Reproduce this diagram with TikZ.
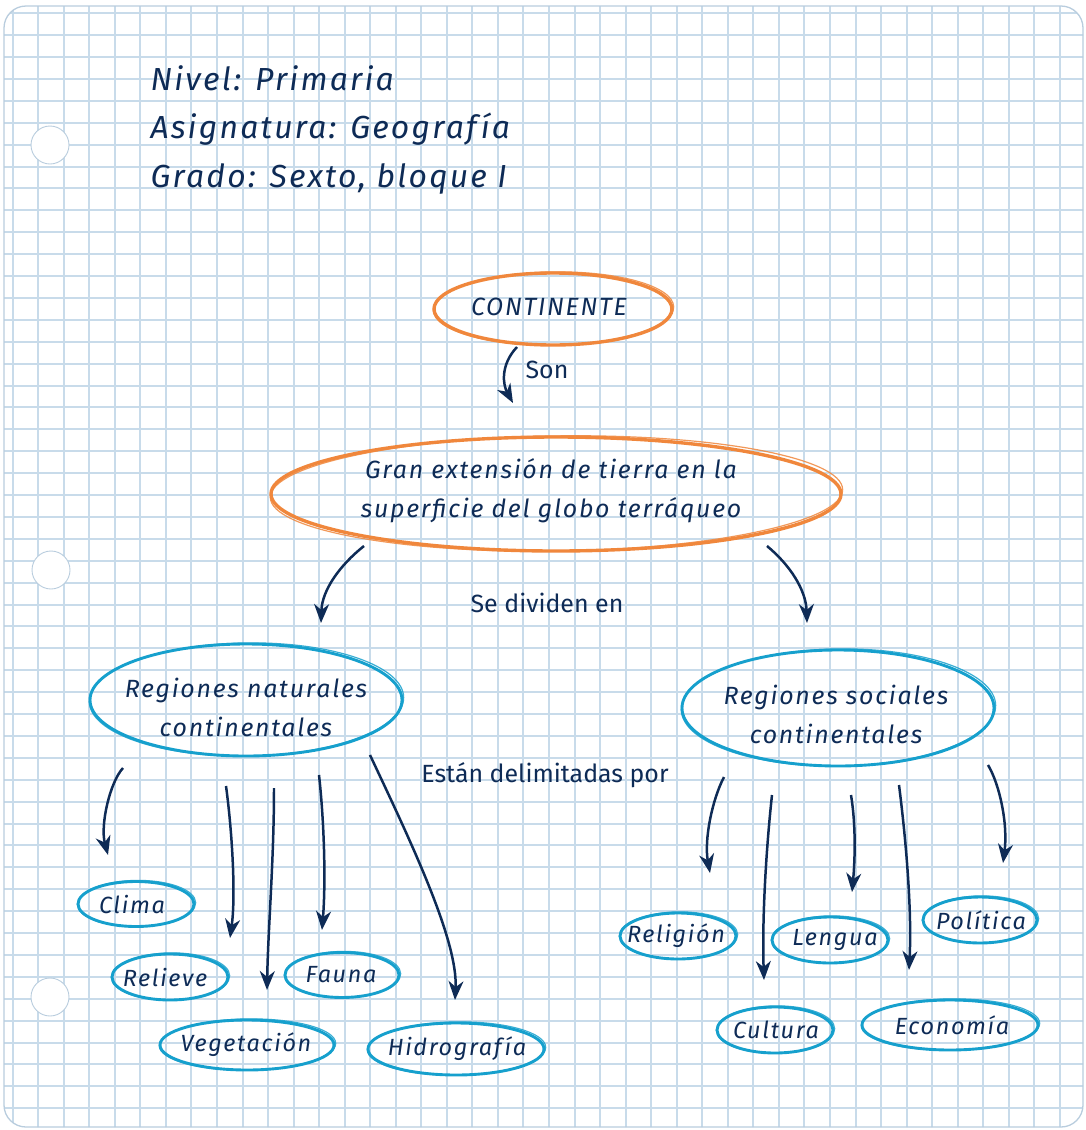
\documentclass[tikz,border=0pt]{standalone}
\usepackage{fontspec}
\usetikzlibrary{arrows.meta}
\newfontfamily\hand{Fira Sans}[UprightFont={* Italic},LetterSpace=7]
\newfontfamily\lab{Fira Sans}
\definecolor{navy}{RGB}{14,43,86}
\definecolor{ora}{RGB}{240,135,60}
\definecolor{cya}{RGB}{22,160,205}
\definecolor{gridc}{RGB}{200,219,234}
\definecolor{paperc}{RGB}{185,205,222}
\newcommand\sketchoval[5]{% center x, center y, rx, ry, style
  \draw[#5] (#1,#2) ellipse [x radius=#3, y radius=#4];
  \draw[#5, line width=1.2pt, opacity=0.85, rotate around={0.8:(#1,#2)}] (#1+0.5,#2+0.5) ellipse [x radius=#3+1.2, y radius=#4+0.6];
}
\begin{document}
\begin{tikzpicture}[x=1bp,y=1bp,
  gridline/.style={draw=gridc, line width=2bp},
  hole/.style={circle, draw=paperc, fill=white, line width=0.9pt, minimum size=38bp, inner sep=0pt},
  orl/.style={draw=ora, line width=3.4pt},
  cyl/.style={draw=cya, line width=2.9pt},
  hwbig/.style={text=navy, align=center, font=\hand\fontsize{25}{39}\selectfont},
  hwsmall/.style={text=navy, font=\hand\fontsize{23.5}{28}\selectfont},
  hwhead/.style={text=navy, anchor=base west, font=\hand\fontsize{32}{36}\selectfont},
  lbl/.style={text=navy, anchor=base, font=\lab\fontsize{25}{28}\selectfont},
  arr/.style={draw=navy, line width=2.5pt, -{Stealth[length=19pt,width=15pt,inset=6pt]}},
]
\useasboundingbox (0,0) rectangle (1086,-1130);
\fill[white] (0,0) rectangle (1086,-1130);
% paper grid
\begin{scope}
\clip[rounded corners=22bp] (4,-6) rectangle (1083,-1127);
\foreach \i in {0,...,42} {\pgfmathsetmacro\gx{round(12.7+25.54*\i)}
  \draw[gridline] (\gx,0) -- (\gx,-1130);}
\foreach \j in {0,...,51} {\pgfmathsetmacro\gy{round(13.3+21.9*\j)}
  \draw[gridline] (0,-\gy) -- (1086,-\gy);}
\end{scope}
\draw[paperc, line width=1.3pt, rounded corners=22bp] (4,-6) rectangle (1083,-1127);
% holes
\node[hole] (hole1) at (50,-145) {};
\node[hole] (hole2) at (51,-570) {};
\node[hole] (hole3) at (50,-997) {};
% header
\node[hwhead] (h1) at (147,-90) {Nivel: Primaria};
\node[hwhead] (h2) at (147,-138) {Asignatura: Geografía};
\node[hwhead] (h3) at (147,-187) {Grado: Sexto, bloque I};
% main ovals
\node[hwbig, font=\hand\fontsize{25}{30}\selectfont] (cont) at (549,-307) {CONTINENTE};
\sketchoval{553}{-309}{119}{36}{orl}
\node[hwbig] (def) at (551,-491) {Gran extensión de tierra en la\\superficie del globo terráqueo};
\sketchoval{556}{-494}{285}{57}{orl}
\node[hwbig] (nat) at (246,-707) {Regiones naturales\\continentales};
\sketchoval{246}{-700}{156}{56}{cyl}
\node[hwbig] (soc) at (836,-714) {Regiones sociales\\continentales};
\sketchoval{838}{-708}{156}{58}{cyl}
% small ovals
\node[hwsmall] (clima) at (132,-904) {Clima};
\sketchoval{136}{-904}{58}{22.5}{cyl}
\node[hwsmall] (relieve) at (165,-977) {Relieve};
\sketchoval{170}{-977}{58}{23}{cyl}
\node[hwsmall] (fauna) at (341,-975) {Fauna};
\sketchoval{342}{-975}{57}{22.5}{cyl}
\node[hwsmall] (veget) at (246,-1045) {Vegetación};
\sketchoval{247}{-1045}{87}{25}{cyl}
\node[hwsmall] (hidro) at (457,-1049) {Hidrografía};
\sketchoval{456}{-1049}{88}{26}{cyl}
\node[hwsmall] (relig) at (676,-936) {Religión};
\sketchoval{678}{-936}{58}{23}{cyl}
\node[hwsmall] (lengua) at (835,-940) {Lengua};
\sketchoval{830}{-940}{58}{23}{cyl}
\node[hwsmall] (polit) at (981,-920) {Política};
\sketchoval{980}{-920}{57}{23}{cyl}
\node[hwsmall] (cultura) at (776,-1030) {Cultura};
\sketchoval{775}{-1030}{58}{23}{cyl}
\node[hwsmall] (econ) at (952,-1025) {Economía};
\sketchoval{950}{-1025}{88}{25}{cyl}
% labels
\node[lbl] (lson) at (547,-378) {Son};
\node[lbl] (ldiv) at (547,-612) {Se dividen en};
\node[lbl] (ldel) at (545,-782) {Están delimitadas por};
% connector end points
\coordinate (s0) at (517,-347);   \coordinate (e0) at (513,-403);
\coordinate (s1) at (364,-546);   \coordinate (e1) at (321,-623);
\coordinate (s2) at (767,-546);   \coordinate (e2) at (807,-623);
\coordinate (sL1) at (123,-768);  \coordinate (eL1) at (108,-855);
\coordinate (sL2) at (226,-786);  \coordinate (eL2) at (230,-938);
\coordinate (sL3) at (274,-788);  \coordinate (eL3) at (267,-990);
\coordinate (sL4) at (319,-775);  \coordinate (eL4) at (322,-930);
\coordinate (sL5) at (370,-755);  \coordinate (eL5) at (455,-1000);
\coordinate (sR1) at (724,-777);  \coordinate (eR1) at (710,-873);
\coordinate (sR2) at (772,-795);  \coordinate (eR2) at (764,-980);
\coordinate (sR3) at (851,-795);  \coordinate (eR3) at (852,-892);
\coordinate (sR4) at (899,-785);  \coordinate (eR4) at (909,-970);
\coordinate (sR5) at (988,-765);  \coordinate (eR5) at (1003,-863);
% connectors
\draw[arr] (s0) .. controls (500,-365) and (503,-385) .. (e0);
\draw[arr] (s1) .. controls (340,-565) and (322,-590) .. (e1);
\draw[arr] (s2) .. controls (790,-565) and (806,-590) .. (e2);
\draw[arr] (sL1) .. controls (110,-782) and (100,-825) .. (eL1);
\draw[arr] (sL2) .. controls (232,-830) and (236,-895) .. (eL2);
\draw[arr] (sL3) .. controls (274,-860) and (268,-930) .. (eL3);
\draw[arr] (sL4) .. controls (324,-820) and (326,-880) .. (eL4);
\draw[arr] (sL5) .. controls (410,-840) and (458,-940) .. (eL5);
\draw[arr] (sR1) .. controls (712,-800) and (704,-840) .. (eR1);
\draw[arr] (sR2) .. controls (766,-850) and (762,-920) .. (eR2);
\draw[arr] (sR3) .. controls (856,-825) and (855,-860) .. (eR3);
\draw[arr] (sR4) .. controls (906,-840) and (912,-910) .. (eR4);
\draw[arr] (sR5) .. controls (1000,-785) and (1008,-825) .. (eR5);
\end{tikzpicture}
\end{document}
